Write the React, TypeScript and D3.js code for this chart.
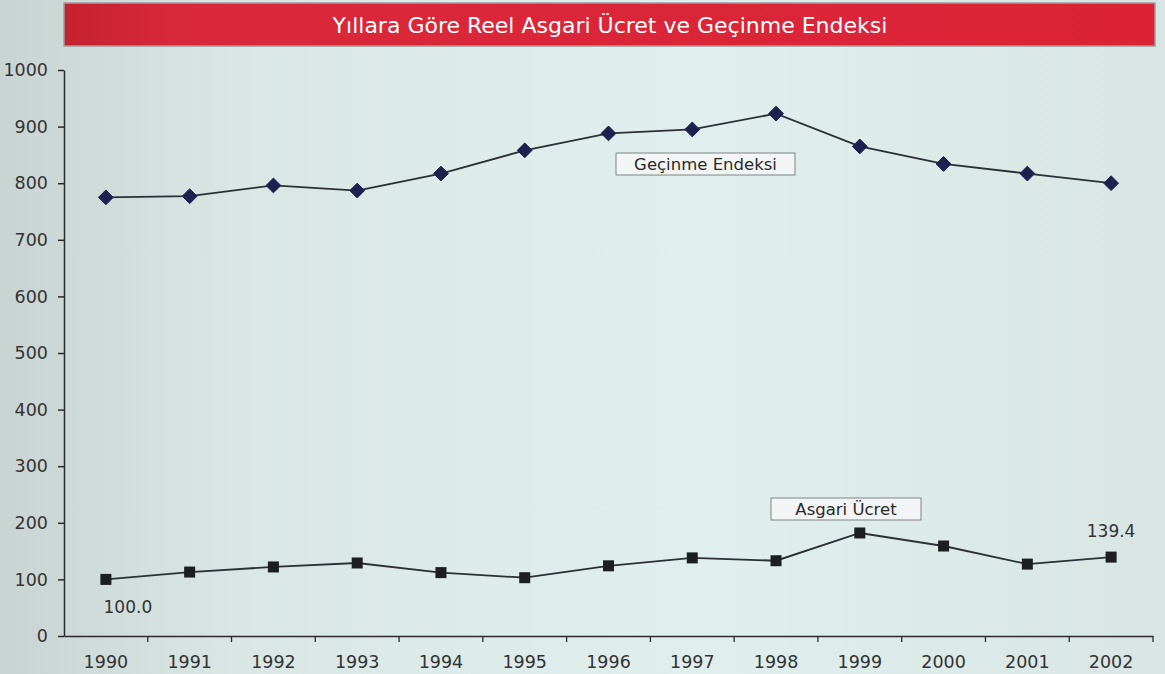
import React, { useEffect, useRef } from "react";
import * as d3 from "d3";

const years = ["1990", "1991", "1992", "1993", "1994", "1995", "1996", "1997", "1998", "1999", "2000", "2001", "2002"];
const gecinmeEndeksi = [775, 777, 796, 787, 817, 858, 888, 895, 923, 865, 834, 817, 800];
const asgariUcret = [100.0, 113, 122, 129, 112, 103, 124, 138, 133, 182, 159, 127, 139.4];
const yTicks = [0, 100, 200, 300, 400, 500, 600, 700, 800, 900, 1000];
const title = "Yıllara Göre Reel Asgari Ücret ve Geçinme Endeksi";

const App = () => {
  const svgRef = useRef<SVGSVGElement>(null);

  useEffect(() => {
    document.body.style.margin = "0";
    const width = 1165;
    const height = 674;
    const marginLeft = 64;
    const marginRight = 12;
    const marginTop = 70;
    const marginBottom = 38;
    const font = "'DejaVu Sans', sans-serif";

    const svg = d3.select(svgRef.current).attr("width", width).attr("height", height);
    svg.selectAll("*").remove();

    const defs = svg.append("defs");
    const bg = defs.append("linearGradient").attr("id", "bg").attr("x1", 0).attr("x2", 1).attr("y1", 0).attr("y2", 0);
    bg.append("stop").attr("offset", "0%").attr("stop-color", "#c9d4d2");
    bg.append("stop").attr("offset", "20%").attr("stop-color", "#d9e6e4");
    bg.append("stop").attr("offset", "60%").attr("stop-color", "#e0efed");
    bg.append("stop").attr("offset", "100%").attr("stop-color", "#d8e5e3");

    const red = defs.append("linearGradient").attr("id", "red").attr("x1", 0).attr("x2", 1).attr("y1", 0).attr("y2", 0);
    red.append("stop").attr("offset", "0%").attr("stop-color", "#c4222f");
    red.append("stop").attr("offset", "10%").attr("stop-color", "#d9283a");
    red.append("stop").attr("offset", "100%").attr("stop-color", "#dc2336");

    svg.append("rect").attr("width", width).attr("height", height).attr("fill", "url(#bg)");

    // title bar
    svg.append("rect").attr("x", 64).attr("y", 3).attr("width", 1091).attr("height", 43)
      .attr("fill", "url(#red)").attr("stroke", "#a39a9b").attr("stroke-width", 1.5);
    svg.append("text").attr("x", 610).attr("y", 33).attr("text-anchor", "middle")
      .attr("fill", "#ffffff").attr("font-family", font).attr("font-size", 22).text(title);

    const x = d3.scaleBand().domain(years).range([marginLeft, width - marginRight]);
    const y = d3.scaleLinear().domain([0, 1000]).range([height - marginBottom, marginTop]);

    // y axis
    const yAxis = svg.append("g").attr("transform", `translate(${marginLeft},0)`)
      .call(d3.axisLeft(y).tickValues(yTicks).tickFormat(d3.format("d")).tickSize(6).tickSizeOuter(0).tickPadding(10));
    yAxis.selectAll("line, path").attr("stroke", "#2a2a2a").attr("stroke-width", 1.5);
    yAxis.selectAll("text").attr("font-family", font).attr("font-size", 17.5).attr("fill", "#333");

    // x axis
    const xAxis = svg.append("g").attr("transform", `translate(0,${y(0)})`)
      .call(d3.axisBottom(x).tickSize(0).tickSizeOuter(0).tickPadding(20));
    xAxis.select(".domain").attr("stroke", "#2a2a2a").attr("stroke-width", 1.5);
    xAxis.selectAll("text").attr("font-family", font).attr("font-size", 17.5).attr("fill", "#333");
    xAxis.selectAll(".edge").data(years).enter().append("line")
      .attr("x1", (d) => x(d)! + x.bandwidth())
      .attr("x2", (d) => x(d)! + x.bandwidth())
      .attr("y1", 0).attr("y2", 6).attr("stroke", "#2a2a2a").attr("stroke-width", 1.3);

    const cx = (i: number) => x(years[i])! + x.bandwidth() / 2;
    const line = d3.line<number>().x((d, i) => cx(i)).y((d) => y(d));

    // Geçinme Endeksi
    svg.append("path").datum(gecinmeEndeksi).attr("fill", "none").attr("stroke", "#2b2e36")
      .attr("stroke-width", 1.8).attr("d", line);
    svg.append("g").selectAll("path").data(gecinmeEndeksi).enter().append("path")
      .attr("d", d3.symbol(d3.symbolDiamond2, 140)())
      .attr("transform", (d, i) => `translate(${cx(i)},${y(d)})`)
      .attr("fill", "#1d2150").attr("stroke", "#1d2150");

    // Asgari Ücret
    svg.append("path").datum(asgariUcret).attr("fill", "none").attr("stroke", "#2b2e36")
      .attr("stroke-width", 1.8).attr("d", line);
    svg.append("g").selectAll("rect").data(asgariUcret).enter().append("rect")
      .attr("x", (d, i) => cx(i) - 5.5).attr("y", (d) => y(d) - 5.5)
      .attr("width", 11).attr("height", 11).attr("fill", "#1c1e1f");

    // annotation boxes
    const box = (label: string, bx: number, by: number, w: number) => {
      svg.append("rect").attr("x", bx).attr("y", by).attr("width", w).attr("height", 22)
        .attr("fill", "#f2f5f4").attr("stroke", "#7d8484").attr("stroke-width", 1);
      svg.append("text").attr("x", bx + w / 2).attr("y", by + 17).attr("text-anchor", "middle")
        .attr("font-family", font).attr("font-size", 16.5).attr("fill", "#2a2a2a").text(label);
    };
    box("Geçinme Endeksi", 616, 153, 179);
    box("Asgari Ücret", 771, 498, 150);

    // data labels
    svg.append("text").attr("x", cx(0) + 22).attr("y", y(asgariUcret[0]) + 34).attr("text-anchor", "middle")
      .attr("font-family", font).attr("font-size", 17).attr("fill", "#333").text(asgariUcret[0].toFixed(1));
    svg.append("text").attr("x", cx(12)).attr("y", y(asgariUcret[12]) - 20).attr("text-anchor", "middle")
      .attr("font-family", font).attr("font-size", 17).attr("fill", "#333").text(asgariUcret[12].toFixed(1));
  }, []);

  return (
    <div>
      <svg ref={svgRef} style={{ display: "block" }}></svg>
    </div>
  );
};
export default App;
